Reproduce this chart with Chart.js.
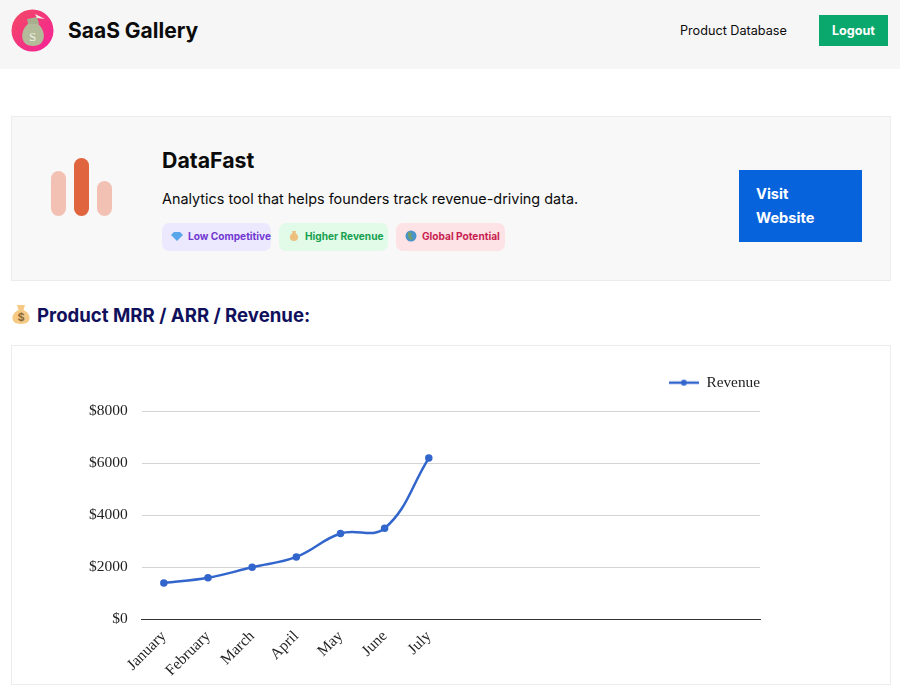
<!DOCTYPE html>
<html><head><meta charset="utf-8">
<script src="https://cdn.jsdelivr.net/npm/chart.js@4"></script>
<style>
*{box-sizing:border-box}
html,body{margin:0;padding:0;width:900px;height:700px;overflow:hidden;background:#fff;font-family:Inter,sans-serif;color:#0b0b0b}
.abs{position:absolute;white-space:nowrap}
#nav{left:0;top:0;width:900px;height:69px;background:#f6f6f6}
#card{left:11px;top:116px;width:880px;height:165px;background:#f8f8f8;border:1px solid #ececec}
.bar{position:absolute;border-radius:8px}
.tag{position:absolute;top:223px;height:28px;border-radius:7px;font-size:10.15px;font-weight:700;line-height:27px;padding-left:9px}
.tag svg{vertical-align:-2px;margin-right:5px}
#box{left:11px;top:345px;width:880px;height:340px;border:1px solid #ececec;background:#fff}
#wrap{position:absolute;left:12px;top:346px;width:878px;height:338px}
</style></head><body>
<div class="abs" id="nav"></div>
<svg class="abs" style="left:11px;top:9px" width="43" height="43" viewBox="0 0 43 43">
<defs><linearGradient id="g" x1="0" y1="0" x2="1" y2="1"><stop offset="0" stop-color="#f24a62"/><stop offset="1" stop-color="#f5219a"/></linearGradient></defs>
<circle cx="21.5" cy="21.5" r="21" fill="url(#g)"/>
<path d="M17 15 L27 15 C35 21 36 37 22 37 C8 37 9 21 17 15Z" fill="#b4bb9a"/>
<path d="M17 15 L16 10 L26 8 L28 15Z" fill="#a8af8e"/><path d="M24 5 L34 10 L26 9Z" fill="#f4efe6"/>
<text x="21.5" y="32" font-size="13" font-family="Liberation Serif" fill="#eef0e2" text-anchor="middle">S</text></svg>
<div class="abs" style="left:68px;top:16px;font-size:21px;font-weight:700;line-height:30px">SaaS Gallery</div>
<div class="abs" style="left:680px;top:22px;font-size:12.65px;line-height:18px">Product Database</div>
<div class="abs" style="left:819px;top:15px;width:69px;height:31px;background:#0aa86c;color:#fff;font-size:12.6px;font-weight:700;line-height:31px;text-align:center">Logout</div>
<div class="abs" id="card"></div>
<div class="bar" style="left:51px;top:171px;width:15px;height:45px;background:#f3c1b3"></div>
<div class="bar" style="left:74px;top:158px;width:15px;height:58px;background:#e0643e"></div>
<div class="bar" style="left:97px;top:181px;width:15px;height:35px;background:#f3c1b3"></div>
<div class="abs" style="left:162px;top:146px;font-size:21.3px;font-weight:700;line-height:28px">DataFast</div>
<div class="abs" style="left:162px;top:189px;font-size:14.4px;line-height:20px">Analytics tool that helps founders track revenue-driving data.</div>
<div class="tag abs" style="left:162px;width:109px;background:#ece9fe;color:#7238d0"><svg width="12" height="11" viewBox="0 0 12 11"><path d="M3 1H9L12 4L6 10L0 4Z" fill="#5aa6ea"/></svg><span>Low Competitive</span></div>
<div class="tag abs" style="left:279px;width:109px;background:#e2fbe8;color:#17a050"><svg width="12" height="12" viewBox="0 0 12 12"><path d="M4 1H8L7.5 3C11 5 11.5 11 6 11C0.500 11 1 5 4.500 3Z" fill="#eec07e"/></svg><span>Higher Revenue</span></div>
<div class="tag abs" style="left:396px;width:109px;background:#fde3e6;color:#c81e50"><svg width="12" height="12" viewBox="0 0 12 12"><circle cx="6" cy="6" r="5.500" fill="#4a93c8"/><path d="M3 2L7 3L6 6L8 9L5 10L3 6Z" fill="#6f9e6a"/></svg><span>Global Potential</span></div>
<div class="abs" style="left:739px;top:170px;width:123px;height:72px;background:#0763dc;color:#fff;font-size:14.6px;font-weight:700;line-height:23.5px;padding:13px 0 0 17px;white-space:normal">Visit<br>Website</div>
<svg class="abs" style="left:11px;top:304px" width="20" height="21" viewBox="0 0 20 21"><path d="M6 1H14L12.500 6C20 9 22 20 10 20C-2 20 0 9 7.500 6Z" fill="#f6c985"/><text x="10" y="17" font-size="11" font-family="Inter" font-weight="700" fill="#8a6a3a" text-anchor="middle">$</text></svg>
<div class="abs" style="left:37px;top:301px;font-size:18.6px;font-weight:700;line-height:28px;color:#10105c">Product MRR / ARR / Revenue:</div>
<div class="abs" id="box"></div>
<div id="wrap"><canvas id="c"></canvas></div>
<script>
const categories=["January","February","March","April","May","June","July","","","","","","",""];
const revenue=[1400,1600,2000,2400,3300,3500,6200];
const yTicks=[0,2000,4000,6000,8000];
const seriesName="Revenue";
const lineColor="#3366cc";
const key=document.createElement('canvas');key.width=30;key.height=10;
(function(){const k=key.getContext('2d');k.strokeStyle=lineColor;k.lineWidth=2.5;k.beginPath();k.moveTo(0,5);k.lineTo(30,5);k.stroke();k.fillStyle=lineColor;k.beginPath();k.arc(15,5,3,0,Math.PI*2);k.fill();})();
const legendRight={id:'legendRight',afterLayout(c){c.legend.right+=24;c.legend.top-=11;c.legend.bottom-=11;}};
new Chart(document.getElementById('c'),{
 type:'line',
 plugins:[legendRight],
 data:{labels:categories,datasets:[{label:seriesName,data:revenue,borderColor:lineColor,backgroundColor:lineColor,borderWidth:2.5,pointRadius:2.5,pointHoverRadius:2.5,tension:0.4,fill:false}]},
 options:{responsive:true,maintainAspectRatio:false,animation:false,
  layout:{padding:{left:63,right:130,top:16,bottom:-4}},
  plugins:{tooltip:{enabled:false},
   legend:{position:'top',align:'end',
    labels:{usePointStyle:true,pointStyleWidth:30,boxHeight:10,color:'#222',padding:24,font:{family:'Liberation Serif',size:15.3},
     generateLabels:c=>[{text:seriesName,pointStyle:key,fillStyle:lineColor,strokeStyle:lineColor,lineWidth:0,datasetIndex:0,fontColor:'#222'}]}}},
  scales:{
   x:{offset:true,grid:{display:false,drawTicks:false},border:{color:'#333',width:1},
      ticks:{autoSkip:false,minRotation:45,maxRotation:45,color:'#222',padding:8,font:{family:'Liberation Serif',size:15.5}}},
   y:{min:0,max:8000,afterBuildTicks:a=>{a.ticks=yTicks.map(v=>({value:v}));},
      grid:{color:'#d4d4d4',lineWidth:1,drawTicks:false},border:{display:false},
      ticks:{color:'#222',padding:14,callback:v=>'$'+v,font:{family:'Liberation Serif',size:15.5}}}
  }}
});
</script>
</body></html>
